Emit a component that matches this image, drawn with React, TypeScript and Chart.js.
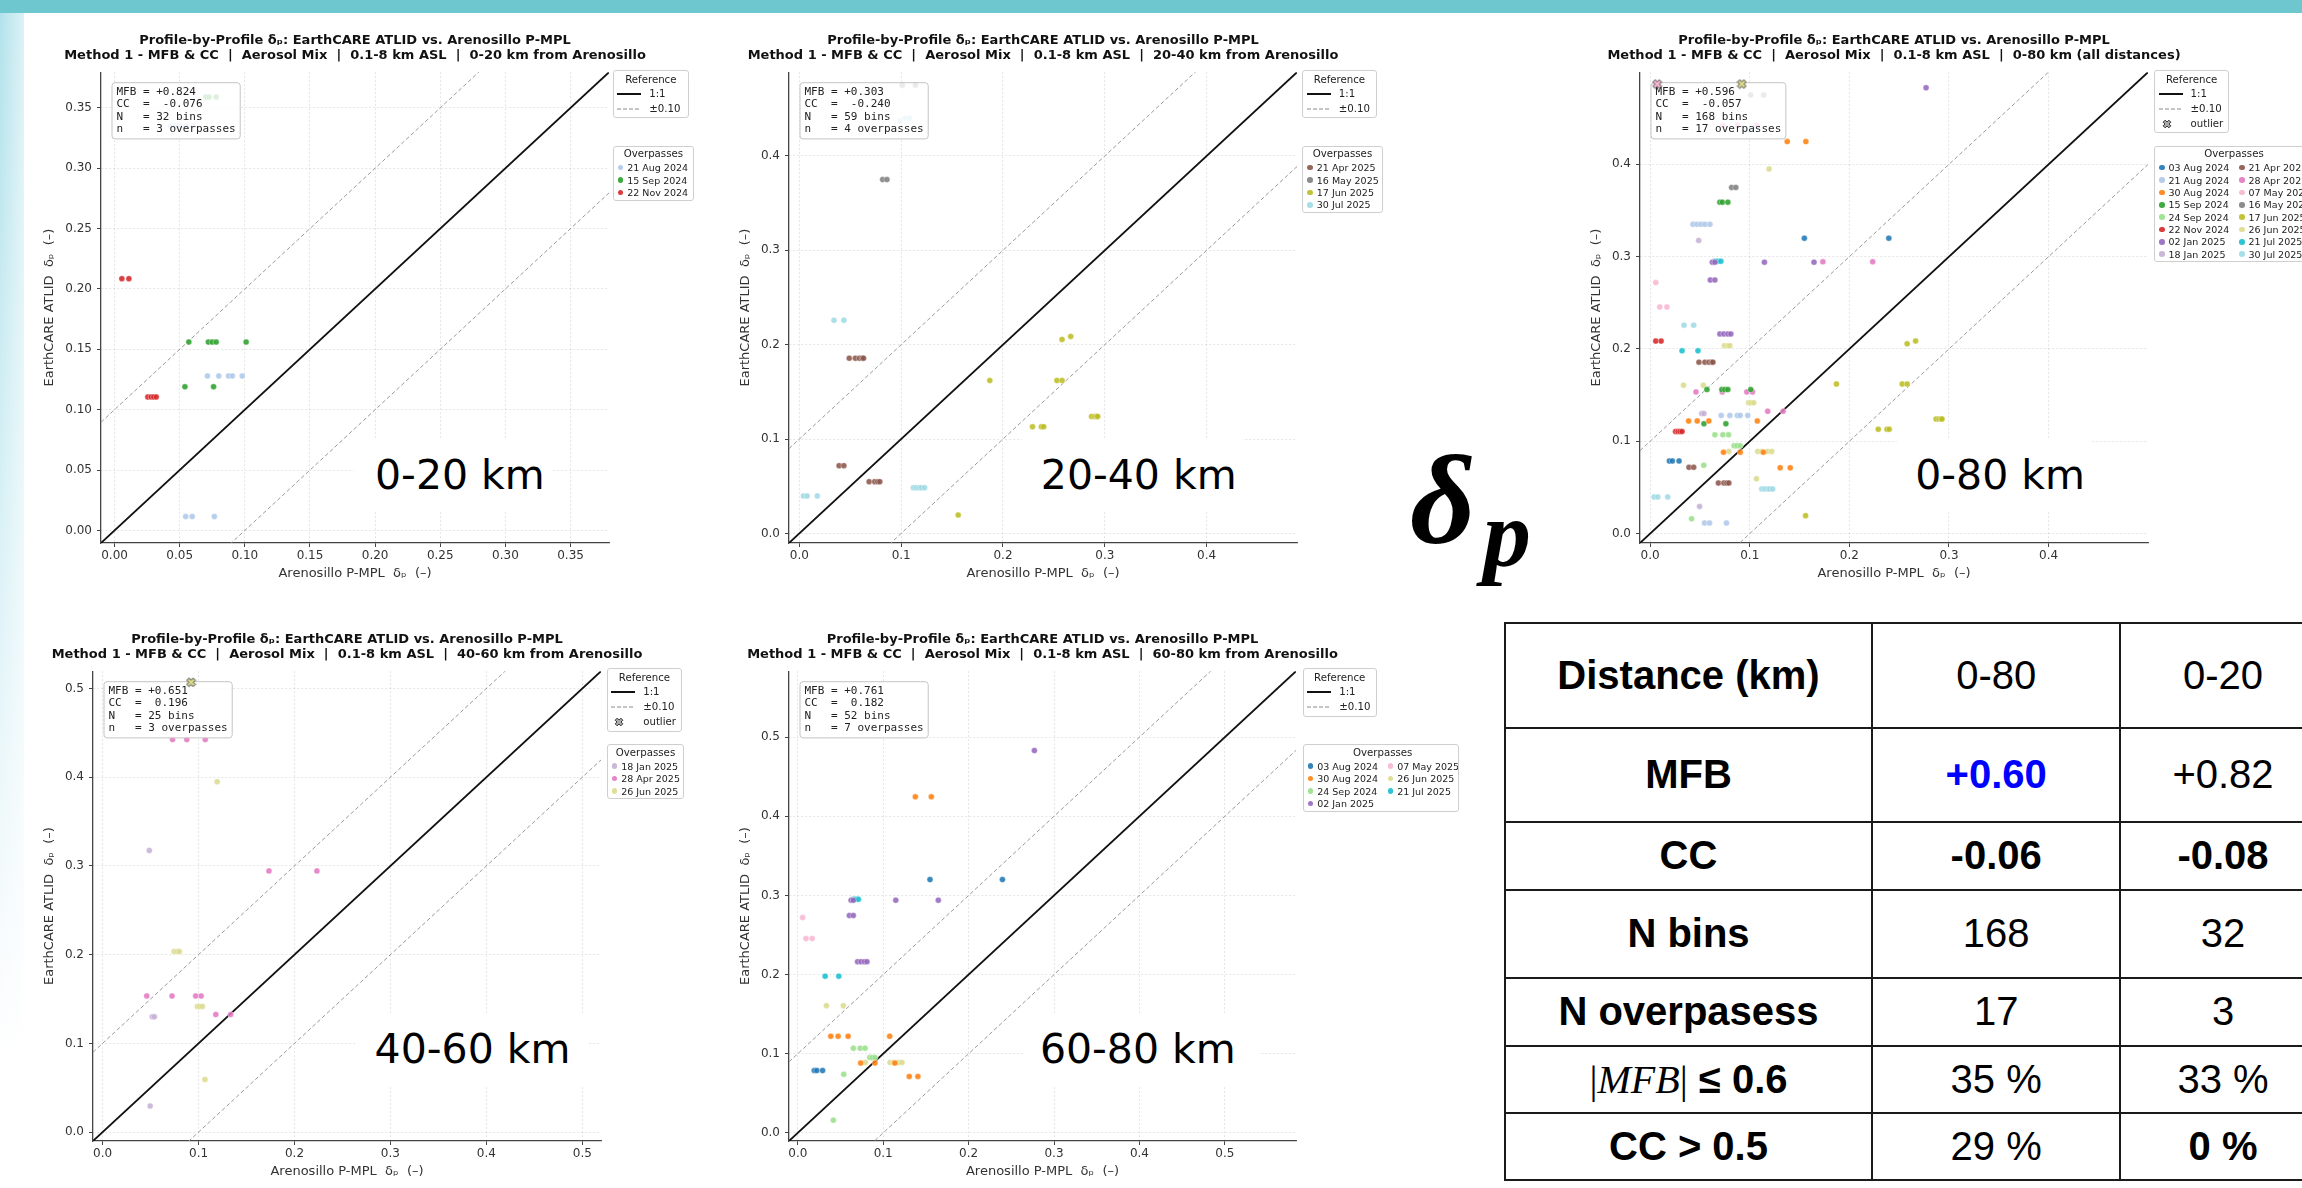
import React, { useEffect, useRef } from "react";
import { Chart, registerables } from "chart.js";

Chart.register(...registerables);
Chart.defaults.font.family = "'DejaVu Sans', 'Liberation Sans', sans-serif";

type Pt = [number, number];
type Series = [string, Pt[]];
type Outlier = [string, number, number];

// ---------- overpasses ----------
const OVERPASSES = [
  "03 Aug 2024", "21 Aug 2024", "30 Aug 2024", "15 Sep 2024", "24 Sep 2024", "22 Nov 2024",
  "02 Jan 2025", "18 Jan 2025", "21 Apr 2025", "28 Apr 2025", "07 May 2025", "16 May 2025",
  "17 Jun 2025", "26 Jun 2025", "21 Jul 2025", "30 Jul 2025",
];
const OVERPASS_COLORS = [
  "#1f77b4", "#aec7e8", "#ff7f0e", "#2ca02c", "#98df8a", "#d62728",
  "#9467bd", "#c5b0d5", "#8c564b", "#e377c2", "#f7b6d2", "#7f7f7f",
  "#bcbd22", "#dbdb8d", "#17becf", "#9edae5",
];

// ---------- 0-20 km ----------
const R0_20_21AUG24: Pt[] = [[0.0713, 0.128], [0.080, 0.128], [0.0875, 0.128], [0.0904, 0.128], [0.098, 0.128], [0.0546, 0.0115], [0.0596, 0.0115], [0.0766, 0.0115], [0.043, 0.335], [0.047, 0.335], [0.051, 0.335], [0.055, 0.335], [0.060, 0.335]];
const R0_20_15SEP24: Pt[] = [[0.057, 0.156], [0.072, 0.156], [0.075, 0.156], [0.078, 0.156], [0.101, 0.156], [0.054, 0.119], [0.076, 0.119], [0.070, 0.359], [0.0725, 0.359], [0.078, 0.359]];
const R0_20_22NOV24: Pt[] = [[0.0056, 0.2085], [0.011, 0.2085], [0.0255, 0.1106], [0.028, 0.1106], [0.030, 0.1106], [0.032, 0.1106]];

// ---------- 20-40 km ----------
const R20_40_21APR25: Pt[] = [[0.049, 0.1857], [0.055, 0.1857], [0.059, 0.1857], [0.0617, 0.1857], [0.063, 0.1857], [0.039, 0.0718], [0.0437, 0.0718], [0.0685, 0.0548], [0.074, 0.0548], [0.077, 0.0548], [0.079, 0.0548]];
const R20_40_16MAY25: Pt[] = [[0.0818, 0.375], [0.086, 0.375], [0.101, 0.475], [0.114, 0.475]];
const R20_40_17JUN25: Pt[] = [[0.258, 0.2056], [0.2665, 0.2087], [0.187, 0.162], [0.253, 0.162], [0.258, 0.162], [0.229, 0.113], [0.2377, 0.113], [0.240, 0.113], [0.287, 0.124], [0.290, 0.124], [0.292, 0.124], [0.293, 0.124], [0.156, 0.0194]];
const R20_40_30JUL25: Pt[] = [[0.034, 0.2258], [0.0437, 0.2258], [0.004, 0.0397], [0.0076, 0.0397], [0.0176, 0.0397], [0.112, 0.0484], [0.115, 0.0484], [0.118, 0.0484], [0.120, 0.0484], [0.123, 0.0484], [0.099, 0.437], [0.104, 0.44], [0.108, 0.44]];

// ---------- 40-60 km ----------
const R40_60_18JAN25: Pt[] = [[0.0487, 0.3175], [0.0518, 0.130], [0.054, 0.130], [0.0496, 0.0294]];
const R40_60_28APR25: Pt[] = [[0.0729, 0.4424], [0.0878, 0.4424], [0.107, 0.4424], [0.1734, 0.2944], [0.2234, 0.2944], [0.046, 0.1535], [0.0724, 0.1535], [0.097, 0.1535], [0.1027, 0.1535], [0.118, 0.1325], [0.1335, 0.1325]];
const R40_60_26JUN25: Pt[] = [[0.1194, 0.395], [0.0746, 0.2035], [0.078, 0.2035], [0.080, 0.2035], [0.0988, 0.1417], [0.101, 0.1417], [0.104, 0.1417], [0.1067, 0.0593]];
const OUT_40_60: Outlier[] = [["26 Jun 2025", 0.0922, 0.507]];

// ---------- 60-80 km ----------
const R60_80_03AUG24: Pt[] = [[0.1548, 0.320], [0.2396, 0.320], [0.0193, 0.0787], [0.0223, 0.0787], [0.029, 0.0787]];
const R60_80_30AUG24: Pt[] = [[0.1376, 0.4246], [0.1563, 0.4246], [0.0386, 0.122], [0.0472, 0.122], [0.0589, 0.122], [0.1076, 0.122], [0.0736, 0.0881], [0.0904, 0.0881], [0.1137, 0.0881], [0.1305, 0.0712], [0.1406, 0.0712]];
const R60_80_24SEP24: Pt[] = [[0.065, 0.107], [0.073, 0.107], [0.0787, 0.107], [0.0843, 0.0952], [0.0873, 0.0952], [0.0904, 0.0952], [0.0538, 0.074], [0.0416, 0.016]];
const R60_80_02JAN25: Pt[] = [[0.277, 0.483], [0.0624, 0.294], [0.065, 0.294], [0.1147, 0.294], [0.1645, 0.294], [0.0604, 0.2747], [0.065, 0.2747], [0.070, 0.2163], [0.074, 0.2163], [0.078, 0.2163], [0.081, 0.2163]];
const R60_80_07MAY25: Pt[] = [[0.0056, 0.272], [0.0096, 0.2455], [0.0168, 0.2455]];
const R60_80_26JUN25: Pt[] = [[0.0335, 0.1607], [0.0533, 0.1607], [0.079, 0.089], [0.108, 0.089], [0.112, 0.089], [0.118, 0.089], [0.122, 0.089]];
const R60_80_21JUL25: Pt[] = [[0.032, 0.198], [0.048, 0.198], [0.065, 0.295], [0.068, 0.295], [0.071, 0.295]];

// ---------- 0-80 km outliers ----------
const OUT_0_80: Outlier[] = [["07 May 2025", 0.007, 0.487], ["26 Jun 2025", 0.092, 0.487]];

// ---------- stats ----------
const STATS_0_20 = ["MFB = +0.824", "CC  =  -0.076", "N   = 32 bins", "n   = 3 overpasses"];
const STATS_20_40 = ["MFB = +0.303", "CC  =  -0.240", "N   = 59 bins", "n   = 4 overpasses"];
const STATS_0_80 = ["MFB = +0.596", "CC  =  -0.057", "N   = 168 bins", "n   = 17 overpasses"];
const STATS_40_60 = ["MFB = +0.651", "CC  =  0.196", "N   = 25 bins", "n   = 3 overpasses"];
const STATS_60_80 = ["MFB = +0.761", "CC  =  0.182", "N   = 52 bins", "n   = 7 overpasses"];

// ---------- axes ----------
const LIM_0_20: [number, number] = [-0.0104, 0.3795];
const LIM_20_40: [number, number] = [-0.0102, 0.4888];
const LIM_0_80: [number, number] = [-0.0102, 0.4998];
const LIM_40_60: [number, number] = [-0.0100, 0.5195];
const LIM_60_80: [number, number] = [-0.0103, 0.5833];
const TICKS_0_20 = [0, 0.05, 0.10, 0.15, 0.20, 0.25, 0.30, 0.35];
const TICKS_20_40 = [0, 0.1, 0.2, 0.3, 0.4];
const TICKS_0_80 = [0, 0.1, 0.2, 0.3, 0.4];
const TICKS_40_60 = [0, 0.1, 0.2, 0.3, 0.4, 0.5];
const TICKS_60_80 = [0, 0.1, 0.2, 0.3, 0.4, 0.5];
const REF_OFFSET = 0.10;

const TITLE_1 = "Profile-by-Profile δₚ: EarthCARE ATLID vs. Arenosillo P-MPL";
const SUB_0_20 = "Method 1 - MFB & CC  |  Aerosol Mix  |  0.1-8 km ASL  |  0-20 km from Arenosillo";
const SUB_20_40 = "Method 1 - MFB & CC  |  Aerosol Mix  |  0.1-8 km ASL  |  20-40 km from Arenosillo";
const SUB_0_80 = "Method 1 - MFB & CC  |  Aerosol Mix  |  0.1-8 km ASL  |  0-80 km (all distances)";
const SUB_40_60 = "Method 1 - MFB & CC  |  Aerosol Mix  |  0.1-8 km ASL  |  40-60 km from Arenosillo";
const SUB_60_80 = "Method 1 - MFB & CC  |  Aerosol Mix  |  0.1-8 km ASL  |  60-80 km from Arenosillo";
const X_TITLE = "Arenosillo P-MPL  δₚ  (–)";
const Y_TITLE = "EarthCARE ATLID  δₚ  (–)";

// ---------- table ----------
const TABLE_LABELS = ["Distance (km)", "MFB", "CC", "N bins", "N overpasess", "|MFB| ≤ 0.6", "CC > 0.5"];
const TABLE_0_80 = ["0-80", "+0.60", "-0.06", "168", "17", "35 %", "29 %"];
const TABLE_0_20 = ["0-20", "+0.82", "-0.08", "32", "3", "33 %", "0 %"];
const TABLE_BOLD_0_80 = [false, true, true, false, false, false, false];
const TABLE_BOLD_0_20 = [false, false, true, false, false, false, true];
const TABLE_BLUE_0_80 = [false, true, false, false, false, false, false];

// ---------- series tables built from the arrays ----------
const SERIES_0_20: Series[] = [["21 Aug 2024", R0_20_21AUG24], ["15 Sep 2024", R0_20_15SEP24], ["22 Nov 2024", R0_20_22NOV24]];
const SERIES_20_40: Series[] = [["21 Apr 2025", R20_40_21APR25], ["16 May 2025", R20_40_16MAY25], ["17 Jun 2025", R20_40_17JUN25], ["30 Jul 2025", R20_40_30JUL25]];
const SERIES_40_60: Series[] = [["18 Jan 2025", R40_60_18JAN25], ["28 Apr 2025", R40_60_28APR25], ["26 Jun 2025", R40_60_26JUN25]];
const SERIES_60_80: Series[] = [["03 Aug 2024", R60_80_03AUG24], ["30 Aug 2024", R60_80_30AUG24], ["24 Sep 2024", R60_80_24SEP24], ["02 Jan 2025", R60_80_02JAN25], ["07 May 2025", R60_80_07MAY25], ["26 Jun 2025", R60_80_26JUN25], ["21 Jul 2025", R60_80_21JUL25]];
const SERIES_0_80: Series[] = OVERPASSES.map((name) => {
  const pts: Pt[] = [];
  [SERIES_0_20, SERIES_20_40, SERIES_40_60, SERIES_60_80].forEach((ss) =>
    ss.forEach(([n, p]) => { if (n === name) pts.push(...p); })
  );
  return [name, pts] as Series;
}).filter(([, p]) => p.length > 0);

const colorOf = (name: string) => OVERPASS_COLORS[OVERPASSES.indexOf(name)] || "#888888";
function rgba(hex: string, a: number) {
  const n = parseInt(hex.slice(1), 16);
  return `rgba(${n >> 16},${(n >> 8) & 255},${n & 255},${a})`;
}

function xPolygon(size: number) {
  const s = size / 2 - 1, w = s * 0.36, c = Math.SQRT1_2;
  const pts: Pt[] = [[-w, -s], [w, -s], [w, -w], [s, -w], [s, w], [w, w], [w, s], [-w, s], [-w, w], [-s, w], [-s, -w], [-w, -w]];
  return pts.map(([a, b]) => [(a - b) * c + size / 2, (a + b) * c + size / 2] as Pt);
}
function makeXMarker(fill: string, size = 11) {
  const cv = document.createElement("canvas");
  cv.width = size; cv.height = size;
  const g = cv.getContext("2d")!;
  g.beginPath();
  xPolygon(size).forEach(([a, b], i) => (i ? g.lineTo(a, b) : g.moveTo(a, b)));
  g.closePath();
  g.fillStyle = fill; g.fill();
  g.strokeStyle = "#333"; g.lineWidth = 1; g.stroke();
  return cv;
}

// stats box drawn inside the canvas (under outlier markers, over normal points)
function drawStats(chart: any, lines: string[]) {
  if (!lines || !lines.length) return;
  const ctx = chart.ctx;
  const { left, top } = chart.chartArea;
  ctx.save();
  ctx.font = "11px 'DejaVu Sans Mono', monospace";
  const w = Math.max(...lines.map((l) => ctx.measureText(l).width)) + 9;
  const h = lines.length * 12.4 + 6.6;
  const x = left + 11, y = top + 10.5, r = 3;
  ctx.beginPath();
  ctx.moveTo(x + r, y); ctx.lineTo(x + w - r, y); ctx.quadraticCurveTo(x + w, y, x + w, y + r);
  ctx.lineTo(x + w, y + h - r); ctx.quadraticCurveTo(x + w, y + h, x + w - r, y + h);
  ctx.lineTo(x + r, y + h); ctx.quadraticCurveTo(x, y + h, x, y + h - r);
  ctx.lineTo(x, y + r); ctx.quadraticCurveTo(x, y, x + r, y); ctx.closePath();
  ctx.fillStyle = "rgba(255,255,255,0.82)"; ctx.fill();
  ctx.strokeStyle = "#c4c4c4"; ctx.lineWidth = 1; ctx.stroke();
  ctx.fillStyle = "#222"; ctx.textBaseline = "middle"; ctx.textAlign = "left";
  lines.forEach((l, i) => ctx.fillText(l, x + 4.5, y + 3.3 + 6.2 + i * 12.4));
  ctx.restore();
}
const statsPlugin = {
  id: "statsBox",
  beforeDraw(chart: any) { chart.$statsDone = false; },
  beforeDatasetDraw(chart: any, args: any, opts: any) {
    const ds = chart.data.datasets[args.index];
    if (ds && ds.isOutlier && !chart.$statsDone) { drawStats(chart, opts.lines); chart.$statsDone = true; }
  },
  afterDatasetsDraw(chart: any, _a: any, opts: any) {
    if (!chart.$statsDone) { drawStats(chart, opts.lines); chart.$statsDone = true; }
  },
};
Chart.register(statsPlugin as any);

interface Panel {
  series: Series[]; outliers: Outlier[]; stats: string[]; lim: [number, number]; ticks: number[]; dec: number;
  subtitle: string; label: string;
  L: number; T: number; R: number; B: number; ml: number;
  ref: [number, number, number]; refOutlier: boolean;
  ov: [number, number, number, number];
  labelPos: [number, number]; wb: [number, number, number, number];
}

const PAD_TOP = 10, PAD_RIGHT = 10, MB = 40;

const PANELS: Panel[] = [
  { series: SERIES_0_20, outliers: [], stats: STATS_0_20, lim: LIM_0_20, ticks: TICKS_0_20, dec: 2, subtitle: SUB_0_20, label: "0-20 km",
    L: 101, T: 70, R: 609, B: 543, ml: 63, ref: [612.7, 70, 76.3], refOutlier: false, ov: [612.7, 145.7, 81.3, 1],
    labelPos: [375, 489.9], wb: [353.8, 438.4, 550.9, 511.7] },
  { series: SERIES_20_40, outliers: [], stats: STATS_20_40, lim: LIM_20_40, ticks: TICKS_20_40, dec: 1, subtitle: SUB_20_40, label: "20-40 km",
    L: 789, T: 70, R: 1297, B: 543, ml: 55, ref: [1302.3, 70, 74.4], refOutlier: false, ov: [1302.3, 145.7, 80.4, 1],
    labelPos: [1040.8, 489.9], wb: [1022, 438.4, 1243, 511.7] },
  { series: SERIES_0_80, outliers: OUT_0_80, stats: STATS_0_80, lim: LIM_0_80, ticks: TICKS_0_80, dec: 1, subtitle: SUB_0_80, label: "0-80 km",
    L: 1640, T: 70, R: 2148, B: 543, ml: 55, ref: [2154, 70, 75.3], refOutlier: true, ov: [2154, 145.7, 172, 2],
    labelPos: [1915.2, 489.9], wb: [1896.8, 438.4, 2091, 511.7] },
  { series: SERIES_40_60, outliers: OUT_40_60, stats: STATS_40_60, lim: LIM_40_60, ticks: TICKS_40_60, dec: 1, subtitle: SUB_40_60, label: "40-60 km",
    L: 93, T: 669, R: 601, B: 1141, ml: 55, ref: [606.7, 668.3, 75.6], refOutlier: true, ov: [606.7, 744.3, 77.6, 1],
    labelPos: [374.6, 1063.9], wb: [355.7, 1012.5, 589.3, 1085.6] },
  { series: SERIES_60_80, outliers: [], stats: STATS_60_80, lim: LIM_60_80, ticks: TICKS_60_80, dec: 1, subtitle: SUB_60_80, label: "60-80 km",
    L: 789, T: 669, R: 1296, B: 1141, ml: 55, ref: [1302.7, 668.3, 74], refOutlier: false, ov: [1302.7, 744.3, 156.6, 2],
    labelPos: [1039.9, 1063.9], wb: [1022.6, 1012.5, 1259, 1085.6] },
];

function ScatterPanel({ p }: { p: Panel }) {
  const ref = useRef<HTMLCanvasElement>(null);
  useEffect(() => {
    const [lo, hi] = p.lim;
    const line = (off: number) => [{ x: lo, y: lo + off }, { x: hi, y: hi + off }];
    const datasets: any[] = [
      { data: line(0), showLine: true, borderColor: "#111", borderWidth: 1.8, pointRadius: 0, order: 10 },
      { data: line(REF_OFFSET), showLine: true, borderColor: "#9a9a9a", borderWidth: 1, borderDash: [4, 2.5], pointRadius: 0, order: 10 },
      { data: line(-REF_OFFSET), showLine: true, borderColor: "#9a9a9a", borderWidth: 1, borderDash: [4, 2.5], pointRadius: 0, order: 10 },
    ];
    p.series.forEach(([name, pts]) =>
      datasets.push({
        label: name,
        data: pts.map(([x, y]) => ({ x, y })),
        backgroundColor: rgba(colorOf(name), 0.88),
        borderColor: "rgba(255,255,255,0.75)",
        borderWidth: 0.5,
        pointRadius: 3,
        order: 1,
      })
    );
    p.outliers.forEach(([name, x, y]) =>
      datasets.push({ label: name, data: [{ x, y }], pointStyle: makeXMarker(colorOf(name)), pointRadius: 5, order: -1, isOutlier: true })
    );
    const axis = (isX: boolean) => ({
      type: "linear",
      min: lo,
      max: hi,
      afterBuildTicks: (s: any) => { s.ticks = p.ticks.map((v) => ({ value: v })); },
      afterFit: isX ? (s: any) => { s.height = MB; } : (s: any) => { s.width = p.ml; },
      ticks: {
        callback: (v: any) => Number(v).toFixed(p.dec),
        color: "#333",
        font: { size: 12 },
        padding: isX ? 2 : 5,
        autoSkip: false,
        maxRotation: 0,
        includeBounds: false,
      },
      grid: { color: "rgba(0,0,0,0.13)", lineWidth: 0.8, drawTicks: true, tickLength: 4, tickColor: "#444", tickWidth: 1 },
      border: { display: true, color: "#444", width: 1.3, dash: [2, 2] },
      title: {
        display: true,
        text: isX ? X_TITLE : Y_TITLE,
        color: "#333",
        font: { size: 13 },
        padding: isX ? { top: 0, bottom: 2 } : { top: 4, bottom: 0 },
      },
    });
    const chart = new Chart(ref.current!, {
      type: "scatter",
      data: { datasets },
      options: {
        animation: false,
        responsive: true,
        maintainAspectRatio: false,
        events: [],
        layout: { padding: { top: PAD_TOP, right: PAD_RIGHT, left: 0, bottom: 0 } },
        plugins: {
          legend: { display: false },
          title: { display: false },
          tooltip: { enabled: false },
          statsBox: { lines: p.stats },
        } as any,
        scales: { x: axis(true) as any, y: axis(false) as any },
      },
    });
    return () => chart.destroy();
  }, [p]);
  return (
    <div
      style={{
        position: "absolute",
        left: p.L - p.ml,
        top: p.T - PAD_TOP,
        width: p.R - p.L + p.ml + PAD_RIGHT,
        height: p.B - p.T + PAD_TOP + MB,
      }}
    >
      <canvas ref={ref} />
    </div>
  );
}

function XGlyph({ size = 10, fill }: { size?: number; fill: string }) {
  return (
    <svg width={size} height={size} style={{ display: "block" }}>
      <polygon points={xPolygon(size).map((q) => q.join(",")).join(" ")} fill={fill} stroke="#333" strokeWidth={1} />
    </svg>
  );
}

const legendBox: React.CSSProperties = {
  position: "absolute",
  boxSizing: "border-box",
  border: "1px solid #cfcfcf",
  borderRadius: 3,
  background: "rgba(255,255,255,0.85)",
  fontFamily: "'DejaVu Sans', sans-serif",
  fontSize: 9.5,
  color: "#222",
  overflow: "hidden",
};

function RefLegend({ x, y, w, outlier }: { x: number; y: number; w: number; outlier: boolean }) {
  const rows = outlier ? 3 : 2;
  const h = 16 + rows * 15 + 2.3;
  const rowTop = (i: number) => 15 + i * 15;
  return (
    <div style={{ ...legendBox, left: x, top: y, width: w, height: h }}>
      <div style={{ position: "absolute", left: 0, width: "100%", top: 1.5, lineHeight: "14px", textAlign: "center", fontSize: 10.2 }}>Reference</div>
      <svg style={{ position: "absolute", left: 3.5, top: rowTop(0) + 4.5 }} width={24} height={6}>
        <line x1={0} y1={3} x2={24} y2={3} stroke="#111" strokeWidth={2} />
      </svg>
      <div style={{ position: "absolute", left: 35.5, top: rowTop(0), lineHeight: "15px", fontSize: 10.2 }}>1:1</div>
      <svg style={{ position: "absolute", left: 3.5, top: rowTop(1) + 4.5 }} width={24} height={6}>
        <line x1={0} y1={3} x2={24} y2={3} stroke="#8a8a8a" strokeWidth={1} strokeDasharray="4,2" />
      </svg>
      <div style={{ position: "absolute", left: 35.5, top: rowTop(1), lineHeight: "15px", fontSize: 10.2 }}>±0.10</div>
      {outlier && (
        <>
          <div style={{ position: "absolute", left: 6.5, top: rowTop(2) + 2.5 }}>
            <XGlyph size={10} fill="#aaaaaa" />
          </div>
          <div style={{ position: "absolute", left: 35.5, top: rowTop(2), lineHeight: "15px", fontSize: 10.2 }}>outlier</div>
        </>
      )}
    </div>
  );
}

function OvLegend({ x, y, w, cols, names }: { x: number; y: number; w: number; cols: number; names: string[] }) {
  const perCol = Math.ceil(names.length / cols);
  const rowH = 12.37;
  const colW = 80;
  const h = 15.8 + perCol * rowH + 2;
  return (
    <div style={{ ...legendBox, left: x, top: y, width: w, height: h }}>
      <div style={{ position: "absolute", left: 0, width: cols === 2 ? 158 : "100%", top: 0.3, lineHeight: "14px", textAlign: "center", fontSize: 10.2 }}>Overpasses</div>
      {names.map((n, i) => {
        const col = Math.floor(i / perCol), row = i % perCol;
        const cy = 21 + row * rowH;
        return (
          <React.Fragment key={n}>
            <div
              style={{
                position: "absolute",
                left: 6.8 + col * colW - 2.8,
                top: cy - 2.8,
                width: 5.6,
                height: 5.6,
                borderRadius: "50%",
                background: rgba(colorOf(n), 0.9),
              }}
            />
            <div style={{ position: "absolute", left: 13.5 + col * colW, top: cy - 6.5, lineHeight: "13px", whiteSpace: "pre" }}>{n}</div>
          </React.Fragment>
        );
      })}
    </div>
  );
}

function PanelOverlays({ p }: { p: Panel }) {
  const cx = (p.L + p.R) / 2;
  return (
    <>
      <div
        style={{
          position: "absolute",
          left: cx - 400,
          width: 800,
          top: p.T - 37.7,
          textAlign: "center",
          fontFamily: "'DejaVu Sans', sans-serif",
          fontWeight: "bold",
          fontSize: 13,
          lineHeight: "15.1px",
          whiteSpace: "pre",
          color: "#111",
        }}
      >
        {TITLE_1 + "\n" + p.subtitle}
      </div>
      <RefLegend x={p.ref[0]} y={p.ref[1]} w={p.ref[2]} outlier={p.refOutlier} />
      <OvLegend x={p.ov[0]} y={p.ov[1]} w={p.ov[2]} cols={p.ov[3]} names={p.series.map((s) => s[0])} />
      <div style={{ position: "absolute", left: p.wb[0], top: p.wb[1], width: p.wb[2] - p.wb[0], height: p.wb[3] - p.wb[1], background: "#fff" }} />
      <div
        style={{
          position: "absolute",
          left: p.labelPos[0],
          top: p.labelPos[1] - 34.7,
          fontFamily: "'DejaVu Sans', sans-serif",
          fontSize: 41,
          lineHeight: "41px",
          whiteSpace: "pre",
          color: "#000",
        }}
      >
        {p.label}
      </div>
    </>
  );
}

const TABLE_X = [1504.6, 1872.4, 2120, 2326];
const TABLE_Y = [623.3, 727.5, 822, 889.5, 978, 1045.5, 1112.6, 1180.1];

function renderLabel(t: string, i: number) {
  if (i === 5) {
    return (
      <span>
        <span style={{ fontFamily: "'Liberation Serif', serif", fontWeight: "normal" }}>
          |<i>MFB</i>|
        </span>
        {" ≤ 0.6"}
      </span>
    );
  }
  return t;
}

function StatsTable() {
  const cols = [TABLE_LABELS, TABLE_0_80, TABLE_0_20];
  const bold = [TABLE_LABELS.map(() => true), TABLE_BOLD_0_80, TABLE_BOLD_0_20];
  const blue = [TABLE_LABELS.map(() => false), TABLE_BLUE_0_80, TABLE_LABELS.map(() => false)];
  const cells: React.ReactNode[] = [];
  cols.forEach((col, c) =>
    col.forEach((t, r) => {
      cells.push(
        <div
          key={`c${c}-${r}`}
          style={{
            position: "absolute",
            left: TABLE_X[c],
            top: TABLE_Y[r],
            width: TABLE_X[c + 1] - TABLE_X[c],
            height: TABLE_Y[r + 1] - TABLE_Y[r],
            display: "flex",
            alignItems: "center",
            justifyContent: "center",
            fontFamily: "'Liberation Sans', Arial, sans-serif",
            fontSize: 40,
            fontWeight: bold[c][r] ? "bold" : "normal",
            color: blue[c][r] ? "#0000ff" : "#000",
            whiteSpace: "pre",
          }}
        >
          {c === 0 ? renderLabel(t, r) : t}
        </div>
      );
    })
  );
  const lines: React.ReactNode[] = [];
  TABLE_Y.forEach((y, i) =>
    lines.push(
      <div key={`h${i}`} style={{ position: "absolute", left: TABLE_X[0] - 1, top: y - 1, width: TABLE_X[3] - TABLE_X[0] + 2, height: 2, background: "#1a1a1a" }} />
    )
  );
  TABLE_X.forEach((x, i) =>
    lines.push(
      <div key={`v${i}`} style={{ position: "absolute", left: x - 1, top: TABLE_Y[0] - 1, width: 2, height: TABLE_Y[7] - TABLE_Y[0] + 2, background: "#1a1a1a" }} />
    )
  );
  return (
    <>
      {cells}
      {lines}
    </>
  );
}

export default function App() {
  return (
    <div style={{ position: "absolute", left: 0, top: 0, width: 2302, height: 1188, overflow: "hidden", background: "#fff" }}>
      <div style={{ position: "absolute", left: 0, top: 0, width: 2302, height: 13.2, background: "#6ec6ce" }} />
      <div
        style={{
          position: "absolute",
          left: 0,
          top: 13,
          width: 24,
          height: 1050,
          background:
            "linear-gradient(to right, rgba(255,255,255,0) 0%, rgba(255,255,255,0.55) 100%), linear-gradient(to bottom, #b2e2eb 0%, #d6f0f5 45%, #eef8fb 75%, #ffffff 100%)",
        }}
      />
      {PANELS.map((p, i) => (
        <ScatterPanel key={i} p={p} />
      ))}
      {PANELS.map((p, i) => (
        <PanelOverlays key={`o${i}`} p={p} />
      ))}
      <div
        style={{
          position: "absolute",
          left: 1410,
          top: 435.8,
          fontFamily: "'Liberation Serif', serif",
          fontStyle: "italic",
          fontWeight: "bold",
          fontSize: 128,
          lineHeight: "128px",
          color: "#000",
        }}
      >
        δ
      </div>
      <div
        style={{
          position: "absolute",
          left: 1483,
          top: 485.6,
          fontFamily: "'Liberation Serif', serif",
          fontStyle: "italic",
          fontWeight: "bold",
          fontSize: 96,
          lineHeight: "96px",
          color: "#000",
        }}
      >
        p
      </div>
      <StatsTable />
    </div>
  );
}
